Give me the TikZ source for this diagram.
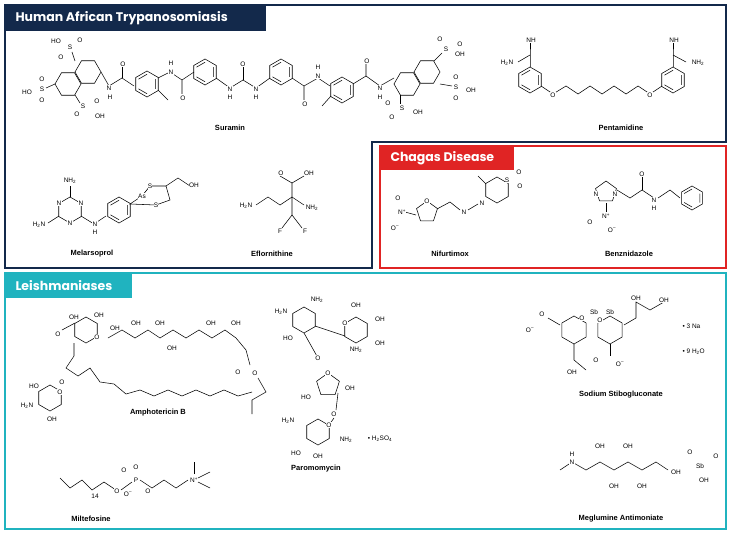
\documentclass[tikz,border=0pt]{standalone}
\usepackage{fontspec}
\setmainfont{Liberation Sans}
\newfontfamily\hdfont{Poppins}
\definecolor{navy}{HTML}{13294B}
\definecolor{teal2}{HTML}{20B3BF}
\definecolor{red2}{HTML}{E02424}
\newcommand{\hexp}[3]{\draw[bond] (#1,#2) +(90:#3pt) -- +(150:#3pt) -- +(210:#3pt) -- +(270:#3pt) -- +(330:#3pt) -- +(30:#3pt) -- cycle;
 \draw[bond] (#1,#2) +(90:0.75*#3pt) -- +(150:0.75*#3pt) +(210:0.75*#3pt) -- +(270:0.75*#3pt) +(330:0.75*#3pt) -- +(30:0.75*#3pt);}
\newcommand{\hexq}[3]{\draw[bond] (#1,#2) +(90:#3pt) -- +(150:#3pt) -- +(210:#3pt) -- +(270:#3pt) -- +(330:#3pt) -- +(30:#3pt) -- cycle;}
\newcommand{\hexf}[3]{\draw[bond] (#1,#2) +(0:#3pt) -- +(60:#3pt) -- +(120:#3pt) -- +(180:#3pt) -- +(240:#3pt) -- +(300:#3pt) -- cycle;}
\newcommand{\pent}[3]{\draw[bond] (#1,#2) +(90:#3pt) -- +(162:#3pt) -- +(234:#3pt) -- +(306:#3pt) -- +(18:#3pt) -- cycle;}
\begin{document}
\begin{tikzpicture}[x=1pt,y=-1pt,
 bond/.style={line width=0.55pt},
 atm/.style={font=\fontsize{6.5}{7}\selectfont, inner sep=0.3pt, fill=white},
 cname/.style={font=\bfseries\fontsize{7.5}{9}\selectfont},
 hdr/.style={font=\hdfont\bfseries\fontsize{12.5}{14}\selectfont, text=white, anchor=west}]
\useasboundingbox (0,0) rectangle (734,535);
% panels
\draw[navy, line width=1.3pt] (5,5) -- (726,5) -- (726,142) -- (372,142) -- (372,268) -- (5,268) -- cycle;
\fill[navy] (5,5) rectangle (266,31);
\node[hdr] (h1) at (12,18) {Human African Trypanosomiasis};
\draw[red2, line width=1.3pt] (380,146) rectangle (726,268);
\fill[red2] (380,146) rectangle (514,170);
\node[hdr] (h2) at (387,158) {Chagas Disease};
\draw[teal2, line width=1.3pt] (5,273) rectangle (726,529);
\fill[teal2] (5,273) rectangle (132,298);
\node[hdr] (h3) at (12,285.5) {Leishmaniases};
% names
\node[cname] (n1) at (230,128) {Suramin};
\node[cname] (n2) at (621,128) {Pentamidine};
\node[cname] (n3) at (92,254) {Melarsoprol};
\node[cname] (n4) at (272,254) {Eflornithine};
\node[cname] (n5) at (450,254) {Nifurtimox};
\node[cname] (n6) at (629,254) {Benznidazole};
\node[cname] (n7) at (158,413) {Amphotericin B};
\node[cname] (n8) at (316,469) {Paromomycin};
\node[cname] (n9) at (621,395) {Sodium Stibogluconate};
\node[cname] (n10) at (91,519) {Miltefosine};
\node[cname] (n11) at (621,519) {Meglumine Antimoniate};
% ---------- Suramin
\hexf{68}{84}{13}\hexf{88}{72}{13}
\draw[bond] (75,61) -- (72,52); \node[atm] at (70,47) {S}; \node[atm] at (56,41) {HO}; \node[atm] at (80,40) {O}; \node[atm] at (61,57) {O};
\draw[bond] (55,84) -- (46,88); \node[atm] at (42,89) {S}; \node[atm] at (27,92) {HO}; \node[atm] at (42,79) {O}; \node[atm] at (42,100) {O};
\draw[bond] (75,95) -- (80,103); \node[atm] at (83,106) {S}; \node[atm] at (97,101) {O}; \node[atm] at (77,114) {O}; \node[atm] at (100,116) {OH};
\draw[bond] (101,72) -- (109,86) -- (122,78) -- (134,86); \draw[bond] (122,78) -- (122,66);
\node[atm] at (109,88) {N}; \node[atm] at (110,97) {H}; \node[atm] at (123,64) {O};
\hexp{147}{84}{13}
\draw[bond] (158,90) -- (168,100); \draw[bond] (158,78) -- (170,72) -- (182,80) -- (182,94); \draw[bond] (182,80) -- (194,72);
\node[atm] at (171,72) {N}; \node[atm] at (171,63) {H}; \node[atm] at (183,98) {O};
\hexp{205}{72}{13}
\draw[bond] (216,78) -- (230,88) -- (243,80) -- (256,88) -- (270,78); \draw[bond] (243,80) -- (243,66);
\node[atm] at (230,89) {N}; \node[atm] at (230,97) {H}; \node[atm] at (243,64) {O}; \node[atm] at (256,89) {N}; \node[atm] at (256,97) {H};
\hexp{281}{72}{13}
\draw[bond] (292,78) -- (304,86) -- (304,100); \draw[bond] (304,86) -- (318,78) -- (330,86);
\node[atm] at (305,104) {O}; \node[atm] at (318,76) {N}; \node[atm] at (318,67) {H};
\hexp{342}{90}{13}
\draw[bond] (331,96) -- (322,106); \draw[bond] (353,84) -- (366,76) -- (366,63); \draw[bond] (366,76) -- (380,86) -- (394,78);
\node[atm] at (367,61) {O}; \node[atm] at (380,88) {N}; \node[atm] at (380,97) {H};
\hexf{407}{84}{13}\hexf{427}{72}{13}
\draw[bond] (434,61) -- (442,53); \node[atm] at (446,49) {S}; \node[atm] at (440,39) {O}; \node[atm] at (460,44) {O}; \node[atm] at (460,54) {OH};
\draw[bond] (440,84) -- (452,86); \node[atm] at (456,87) {S}; \node[atm] at (456,77) {O}; \node[atm] at (456,98) {O}; \node[atm] at (471,90) {OH};
\draw[bond] (400,95) -- (400,104); \node[atm] at (402,108) {S}; \node[atm] at (392,117) {O}; \node[atm] at (388,103) {O}; \node[atm] at (418,112) {OH};
% ---------- Pentamidine
\hexp{530}{80}{13}
\draw[bond] (530,67) -- (530,55) -- (530,43); \draw[bond] (530,55) -- (518,62);
\node[atm] at (531,40) {NH}; \node[atm] at (507,63) {H\textsubscript{2}N};
\draw[bond] (541,86) -- (553,94) -- (566,86) -- (578,94) -- (590,86) -- (602,94) -- (614,86) -- (626,94) -- (638,86) -- (650,94) -- (662,86);
\node[atm] at (553,95) {O}; \node[atm] at (650,95) {O};
\hexp{673}{80}{13}
\draw[bond] (673,67) -- (673,55) -- (673,43); \draw[bond] (673,55) -- (686,62);
\node[atm] at (674,40) {NH}; \node[atm] at (698,63) {NH\textsubscript{2}};
% ---------- Melarsoprol
\hexq{70}{210}{13}
\node[atm] at (59,203) {N}; \node[atm] at (81,203) {N}; \node[atm] at (70,223) {N};
\draw[bond] (70,197) -- (70,186); \node[atm] at (70,181) {NH\textsubscript{2}};
\draw[bond] (59,216) -- (48,223); \node[atm] at (39,225) {H\textsubscript{2}N};
\draw[bond] (81,216) -- (94,224) -- (106,216); \node[atm] at (95,224) {N}; \node[atm] at (95,232) {H};
\hexp{119}{210}{13}
\draw[bond] (130,204) -- (142,196) -- (150,186) -- (166,186) -- (170,200) -- (156,205) -- cycle;
\node[atm] at (142,196) {As}; \node[atm] at (150,186) {S}; \node[atm] at (156,205) {S};
\draw[bond] (166,186) -- (178,178) -- (190,186); \node[atm] at (194,185) {OH};
% ---------- Eflornithine
\draw[bond] (256,205) -- (268,197) -- (280,205) -- (292,197) -- (304,205); \draw[bond] (292,197) -- (292,183) -- (304,176); \draw[bond] (292,183) -- (280,176);
\draw[bond] (292,197) -- (292,215) -- (282,228); \draw[bond] (292,215) -- (302,228);
\node[atm] at (246,206) {H\textsubscript{2}N}; \node[atm] at (312,208) {NH\textsubscript{2}}; \node[atm] at (281,173) {O}; \node[atm] at (309,173) {OH}; \node[atm] at (280,231) {F}; \node[atm] at (305,231) {F};
% ---------- Nifurtimox
\pent{427}{212}{11}
\node[atm] at (427,201) {O};
\draw[bond] (416,215) -- (405,212); \node[atm] at (402,212) {N\textsuperscript{+}}; \node[atm] at (395,228) {O\textsuperscript{--}}; \node[atm] at (398,198) {O};
\draw[bond] (437,209) -- (450,202) -- (460,210); \node[atm] at (464,212) {N}; \draw[bond] (468,210) -- (478,204);
\node[atm] at (482,203) {N};
\hexq{497}{190}{13}
\node[atm] at (507,180) {S}; \node[atm] at (519,172) {O}; \node[atm] at (520,186) {O};
\draw[bond] (486,184) -- (478,176);
% ---------- Benznidazole
\pent{606}{192}{11}
\node[atm] at (596,194) {N}; \node[atm] at (615,194) {N};
\draw[bond] (606,203) -- (606,212); \node[atm] at (606,216) {N\textsuperscript{+}}; \node[atm] at (590,222) {O}; \node[atm] at (612,230) {O\textsuperscript{--}};
\draw[bond] (617,190) -- (630,198) -- (642,190) -- (654,198); \draw[bond] (642,190) -- (642,177); \node[atm] at (642,174) {O};
\node[atm] at (654,200) {N}; \node[atm] at (654,208) {H}; \draw[bond] (658,198) -- (670,190) -- (680,198);
\hexp{692}{198}{12}
% ---------- Amphotericin B
\hexq{86}{330}{13}
\node[atm] at (97,337) {O}; \node[atm] at (74,317) {OH}; \node[atm] at (99,315) {OH};
\draw[bond] (75,323) -- (62,330); \node[atm] at (58,334) {O};
\draw[bond] (108,338) -- (122,330) -- (135,338) -- (148,330) -- (160,338) -- (173,330) -- (186,338) -- (199,330) -- (212,338) -- (225,330) -- (236,338) -- (246,350) -- (250,365);
\node[atm] at (115,328) {OH}; \node[atm] at (136,323) {OH}; \node[atm] at (160,323) {OH}; \node[atm] at (172,348) {OH}; \node[atm] at (211,323) {OH}; \node[atm] at (236,323) {OH};
\node[atm] at (238,372) {O}; \node[atm] at (255,373) {O};
\draw[bond] (258,378) -- (266,392) -- (252,400) -- (252,414);
\draw[bond] (74,343) -- (74,356) -- (66,368) -- (78,376) -- (90,368) -- (100,382) -- (114,384) -- (126,394) -- (140,390) -- (154,396) -- (168,390) -- (182,396) -- (196,390) -- (210,396) -- (224,390) -- (238,396) -- (252,392);
\node[atm] at (62,382) {O};
\hexq{50}{398}{13}
\node[atm] at (60,392) {O}; \node[atm] at (34,386) {HO}; \node[atm] at (27,406) {H\textsubscript{2}N}; \node[atm] at (52,419) {OH};
% ---------- Paromomycin
\hexq{304}{320}{13}
\node[atm] at (281,312) {H\textsubscript{2}N}; \node[atm] at (288,338) {HO}; \node[atm] at (317,300) {NH\textsubscript{2}};
\hexq{356}{330}{13}
\node[atm] at (345,323) {O}; \node[atm] at (356,305) {OH}; \node[atm] at (380,319) {OH}; \node[atm] at (380,343) {OH}; \node[atm] at (356,350) {NH\textsubscript{2}};
\draw[bond] (315,326) -- (345,336);
\draw[bond] (304,333) -- (318,358);
\pent{328}{385}{12}
\node[atm] at (328,373) {O}; \node[atm] at (318,358) {O}; \node[atm] at (306,397) {HO}; \node[atm] at (350,388) {OH};
\draw[bond] (338,393) -- (336,410); \node[atm] at (334,414) {O};
\draw[bond] (334,418) -- (329,425);
\hexq{318}{432}{13}
\node[atm] at (329,425) {O}; \node[atm] at (288,421) {H\textsubscript{2}N}; \node[atm] at (346,440) {NH\textsubscript{2}}; \node[atm] at (296,453) {HO}; \node[atm] at (318,456) {OH};
\node[atm] at (380,439) {• H\textsubscript{2}SO\textsubscript{4}};
% ---------- Sodium Stibogluconate
\hexq{574}{330}{14}\hexq{610}{330}{14}
\node[atm] at (582,318) {O}; \node[atm] at (594,312) {Sb}; \node[atm] at (610,312) {Sb}; \node[atm] at (600,320) {O};
\draw[bond] (560,325) -- (548,318); \node[atm] at (542,314) {O}; \node[atm] at (530,330) {O\textsuperscript{--}};
\draw[bond] (574,344) -- (574,360) -- (586,370); \node[atm] at (572,372) {OH};
\draw[bond] (624,325) -- (636,318) -- (636,302) -- (650,310) -- (664,302); \node[atm] at (636,298) {OH}; \node[atm] at (664,300) {OH};
\draw[bond] (610,344) -- (610,356); \node[atm] at (596,360) {O}; \node[atm] at (620,364) {O\textsuperscript{--}};
\node[atm, anchor=west] at (682,326) {• 3 Na}; \node[atm, anchor=west] at (682,352) {• 9 H\textsubscript{2}O};
% ---------- Meglumine
\draw[bond] (560,470) -- (572,462) -- (586,470) -- (600,462) -- (614,470) -- (628,462) -- (642,470) -- (656,462) -- (668,470);
\node[atm] at (572,462) {N}; \node[atm] at (572,454) {H};
\node[atm] at (600,446) {OH}; \node[atm] at (614,486) {OH}; \node[atm] at (628,446) {OH}; \node[atm] at (642,486) {OH}; \node[atm] at (676,472) {OH};
\node[atm] at (700,466) {Sb}; \node[atm] at (690,452) {O}; \node[atm] at (716,456) {O}; \node[atm] at (704,480) {OH};
% ---------- Miltefosine
\draw[bond] (60,478) -- (70,488) -- (82,480) -- (92,490) -- (104,482) -- (116,490); \node[atm] at (95,496) {14};
\node[atm] at (117,491) {O}; \draw[bond] (121,490) -- (132,482); \node[atm] at (136,480) {P};
\node[atm] at (136,467) {O}; \node[atm] at (124,470) {O}; \node[atm] at (128,494) {O\textsuperscript{--}};
\draw[bond] (140,480) -- (152,488) -- (164,480) -- (176,488) -- (188,480); \node[atm] at (148,491) {O};
\node[atm] at (194,480) {N\textsuperscript{+}}; \draw[bond] (194,474) -- (194,462); \draw[bond] (198,478) -- (210,472); \draw[bond] (198,482) -- (210,488);
\end{tikzpicture}
\end{document}
